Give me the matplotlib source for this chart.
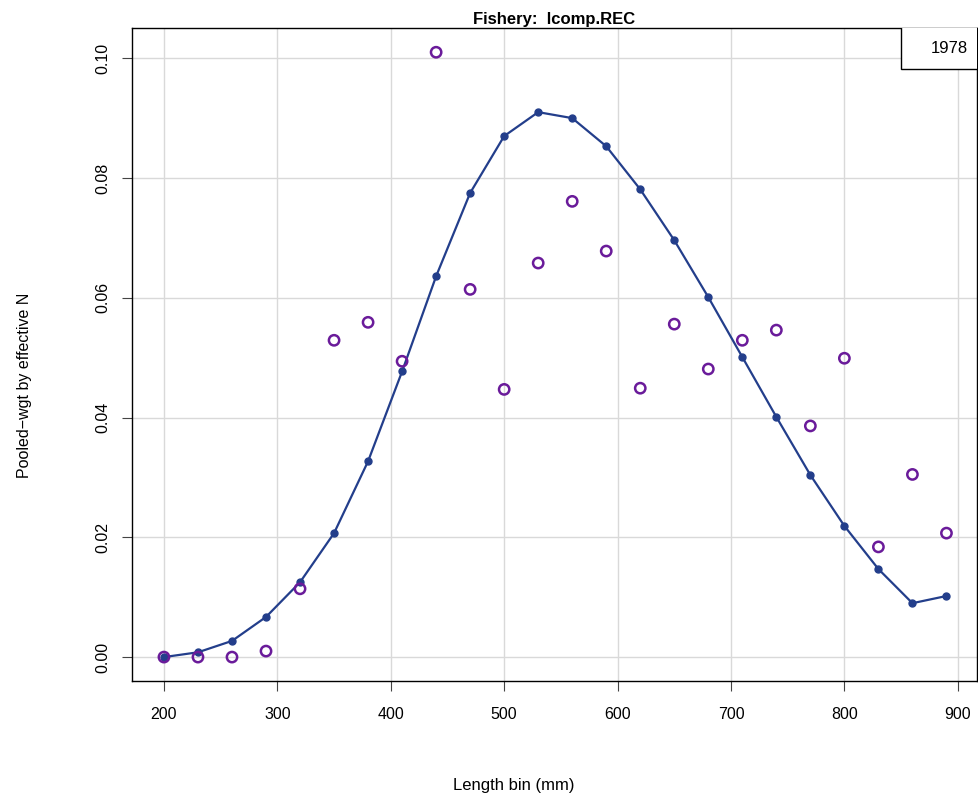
import matplotlib
matplotlib.use("Agg")
import matplotlib.pyplot as plt
from matplotlib.patches import Rectangle

plt.rcParams['font.family'] = ['Liberation Sans', 'DejaVu Sans']

# length bins
bins = [200, 230, 260, 290, 320, 350, 380, 410, 440, 470, 500, 530,
        560, 590, 620, 650, 680, 710, 740, 770, 800, 830, 860, 890]
# observed (open circles)
obs = [0.0, 0.0, 0.0, 0.001, 0.0114, 0.0529, 0.0559, 0.0494, 0.101, 0.0614,
       0.0447, 0.0658, 0.0761, 0.0678, 0.0449, 0.0556, 0.0481, 0.0529,
       0.0546, 0.0386, 0.0499, 0.0184, 0.0305, 0.0207]
# expected (line)
exp = [0.0, 0.0008, 0.0027, 0.0067, 0.0125, 0.0207, 0.0327, 0.0477, 0.0636,
       0.0775, 0.0870, 0.0910, 0.0900, 0.0853, 0.0781, 0.0696, 0.0601,
       0.0501, 0.0401, 0.0304, 0.0219, 0.0147, 0.0090, 0.0102]
year = "1978"

fig = plt.figure(figsize=(9.79, 7.97), dpi=100)
ax = fig.add_axes([0.1348, 0.1455, 0.863, 0.819])

ax.grid(True, color='#d9d9d9', linewidth=1)
ax.set_axisbelow(True)
ax.plot(bins, exp, color='#233e8b', linewidth=1.6, marker='o', markersize=5, zorder=3)
ax.scatter(bins, obs, s=55, facecolors='none', edgecolors='#6a1b9a', linewidths=1.8, zorder=4)

ax.set_xlim(171.8, 916.8)
ax.set_ylim(-0.004, 0.105)
ax.set_xticks([200, 300, 400, 500, 600, 700, 800, 900])
ax.set_yticks([0.0, 0.02, 0.04, 0.06, 0.08, 0.10])
ax.set_yticklabels(['0.00', '0.02', '0.04', '0.06', '0.08', '0.10'], rotation=90, va='center')
ax.tick_params(labelsize=11.5, length=7.2, color='#444444')
ax.tick_params(axis='x', pad=11.5)
ax.tick_params(axis='y', pad=8.0)
for s in ax.spines.values():
    s.set_linewidth(1)

# R centres the axis titles a bit off the box centre
ax.set_xlabel("Length bin (mm)", fontsize=12, labelpad=40, x=0.452)
ax.set_ylabel("Pooled\u2212wgt by effective N", fontsize=11.5, labelpad=46, y=0.453)
ax.set_title("Fishery:  lcomp.REC", fontsize=12, fontweight='bold', pad=3)

# year box in top-right corner
ax.add_patch(Rectangle((0.910, 0.937), 0.095, 0.07, transform=ax.transAxes,
                       facecolor='white', edgecolor='black', linewidth=1, zorder=5, clip_on=True))
ax.text(0.989, 0.969, year, transform=ax.transAxes, ha='right', va='center',
        fontsize=12, zorder=6)

fig.savefig("out.png", dpi=100)
